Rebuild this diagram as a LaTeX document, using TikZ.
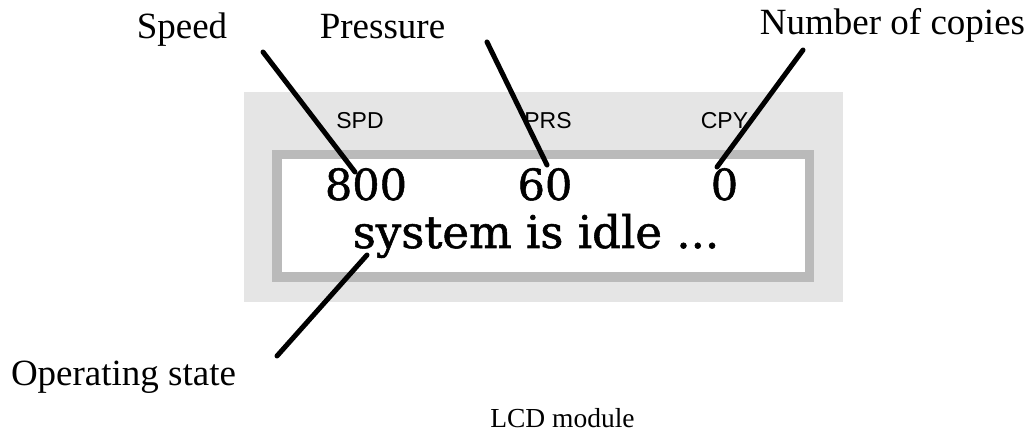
\documentclass[tikz,border=0pt]{standalone}
\usepackage{fontspec}
\setmainfont{Liberation Serif}
\newfontfamily\lcdfont[FakeBold=1.2]{DejaVu Serif}
\newfontfamily\tagfont{Liberation Sans}
\definecolor{panelgray}{HTML}{E5E5E5}
\definecolor{framegray}{HTML}{BABABA}
\begin{document}
\begin{tikzpicture}[
x=1pt,y=1pt,
lbl/.style={inner sep=0pt,anchor=base,font=\fontsize{37}{40}\selectfont},
tag/.style={inner sep=0pt,anchor=base,font=\tagfont\fontsize{23}{26}\selectfont},
lcd/.style={inner sep=0pt,anchor=base,font=\lcdfont\fontsize{43}{48}\selectfont},
pointer/.style={line width=5pt,line cap=round}
]
\useasboundingbox (0,0) rectangle (1030,434);

\node (P) at (543.5,237) [fill=panelgray,minimum width=599pt,minimum height=210pt] {};
\node (F) at (543,218) [draw=framegray,line width=9.5pt,fill=white,minimum width=532.5pt,minimum height=122.5pt] {};

\node[tag] (SPD) at (360,305) {SPD};
\node[tag] (PRS) at (548,305) {PRS};
\node[tag] (CPY) at (724.5,305) {CPY};

\node[lcd] (V1) at (366,234) {800};
\node[lcd] (V2) at (545,234) {60};
\node[lcd] (V3) at (724.5,234) {0};
\node[lcd,font=\lcdfont\fontsize{45}{50}\selectfont] (St) at (536,186) {system is idle ...};

\node[lbl] (Sp) at (182,395) {Speed};
\node[lbl] (Pr) at (382.5,395) {Pressure};
\node[lbl] (Nc) at (892.5,399) {Number of copies};
\node[lbl] (Os) at (123.5,49) {Operating state};
\node[inner sep=0pt,anchor=base,font=\fontsize{27.5}{30}\selectfont] (L) at (562.5,7) {LCD module};

\coordinate (Sp1) at (263,382);
\coordinate (Sp2) at (355,262);
\coordinate (Pr1) at (487,392);
\coordinate (Pr2) at (547,269);
\coordinate (Nc1) at (803,384);
\coordinate (Nc2) at (717,267);
\coordinate (Os1) at (367,179);
\coordinate (Os2) at (277,78);

\draw[pointer] (Sp1) -- (Sp2);
\draw[pointer] (Pr1) -- (Pr2);
\draw[pointer] (Nc1) -- (Nc2);
\draw[pointer] (Os1) -- (Os2);

\end{tikzpicture}
\end{document}
